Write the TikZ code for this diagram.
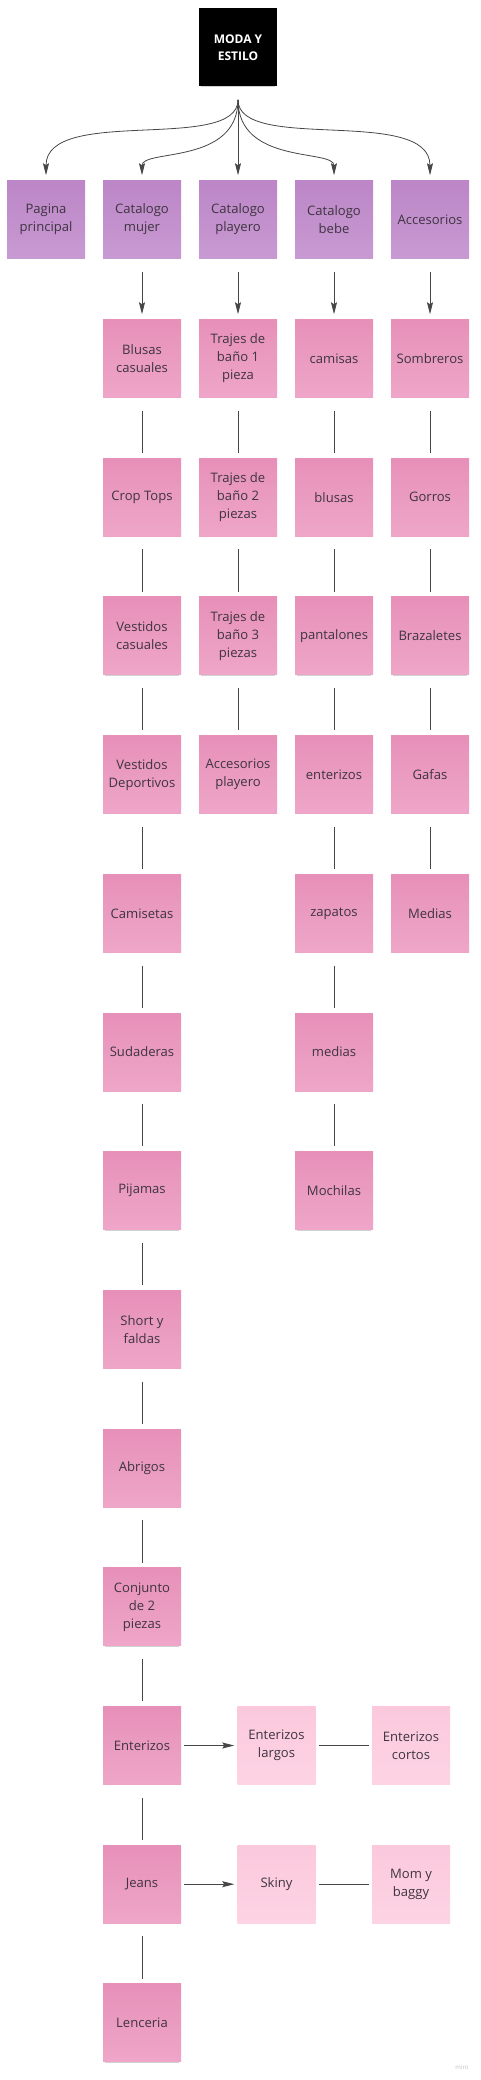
\documentclass[tikz,border=0pt]{standalone}
\usepackage{fontspec}
\setmainfont{Open Sans}
\usetikzlibrary{arrows.meta,shadows}
\definecolor{lila}{RGB}{188,134,199}
\definecolor{lilab}{RGB}{200,154,210}
\definecolor{rosa}{RGB}{231,144,185}
\definecolor{rosab}{RGB}{238,166,200}
\definecolor{rosita}{RGB}{251,200,220}
\definecolor{rositab}{RGB}{253,212,228}
\definecolor{texto}{RGB}{62,52,64}
\definecolor{linea}{RGB}{70,70,70}
\tikzstyle{nota}=[rectangle,inner sep=0pt,minimum width=58.5pt,minimum height=58.5pt,align=center,text=texto,font=\fontsize{9.8}{13.5}\selectfont,drop shadow={shadow xshift=0pt,shadow yshift=-2.5pt,shadow scale=0.94,opacity=0.3,fill=black!60}]
\tikzstyle{raiz}=[nota,fill=black,text=white,font=\fontsize{9}{12.5}\selectfont\bfseries]
\tikzstyle{cat}=[nota,top color=lila,bottom color=lilab]
\tikzstyle{item}=[nota,top color=rosa,bottom color=rosab]
\tikzstyle{sub}=[nota,top color=rosita,bottom color=rositab]
\tikzstyle{link}=[draw=linea,line width=0.6pt,shorten <=9.75pt,shorten >=3.75pt]
\tikzstyle{arr}=[link,-{Stealth[length=9pt,width=4.5pt,inset=1.5pt]}]
\tikzstyle{hlink}=[draw=linea,line width=0.6pt,shorten <=2.25pt,shorten >=2.25pt]
\tikzstyle{harr}=[hlink,-{Stealth[length=9pt,width=4.5pt,inset=1.5pt]}]
\begin{document}
\begin{tikzpicture}[x=0.75pt,y=-0.75pt]
\useasboundingbox (0,0) rectangle (480,2080);
\node (root) at (238,47.5) [raiz] {MODA Y\\ESTILO};

\node (pag) at (46,219.5) [cat] {Pagina\\principal};
\node (muj) at (142,219.5) [cat] {Catalogo\\mujer};
\node (play) at (238,219.5) [cat] {Catalogo\\playero};
\node (bebe) at (334,219.5) [cat] {Catalogo\\bebe};
\node (acc) at (430,219.5) [cat] {Accesorios};

% catalogo mujer
\node (m1) at (142,358.5) [item] {Blusas\\casuales};
\node (m2) at (142,497.2) [item] {Crop Tops};
\node (m3) at (142,635.9) [item] {Vestidos\\casuales};
\node (m4) at (142,774.6) [item] {Vestidos\\Deportivos};
\node (m5) at (142,913.3) [item] {Camisetas};
\node (m6) at (142,1052) [item] {Sudaderas};
\node (m7) at (142,1190.7) [item] {Pijamas};
\node (m8) at (142,1329.4) [item] {Short y\\faldas};
\node (m9) at (142,1468.1) [item] {Abrigos};
\node (m10) at (142,1606.8) [item] {Conjunto\\de 2\\piezas};
\node (m11) at (142,1745.5) [item] {Enterizos};
\node (m12) at (142,1884.2) [item] {Jeans};
\node (m13) at (142,2022.9) [item] {Lenceria};

\node (el) at (276.5,1745.5) [sub] {Enterizos\\largos};
\node (ec) at (411,1745.5) [sub] {Enterizos\\cortos};
\node (sk) at (276.5,1884.2) [sub] {Skiny};
\node (mb) at (411,1884.2) [sub] {Mom y\\baggy};

% catalogo playero
\node (p1) at (238,358.5) [item] {Trajes de\\baño 1\\pieza};
\node (p2) at (238,497.2) [item] {Trajes de\\baño 2\\piezas};
\node (p3) at (238,635.9) [item] {Trajes de\\baño 3\\piezas};
\node (p4) at (238,774.6) [item] {Accesorios\\playero};

% catalogo bebe
\node (b1) at (334,358.5) [item] {camisas};
\node (b2) at (334,497.2) [item] {blusas};
\node (b3) at (334,635.9) [item] {pantalones};
\node (b4) at (334,774.6) [item] {enterizos};
\node (b5) at (334,913.3) [item] {zapatos};
\node (b6) at (334,1052) [item] {medias};
\node (b7) at (334,1190.7) [item] {Mochilas};

% accesorios
\node (a1) at (430,358.5) [item] {Sombreros};
\node (a2) at (430,497.2) [item] {Gorros};
\node (a3) at (430,635.9) [item] {Brazaletes};
\node (a4) at (430,774.6) [item] {Gafas};
\node (a5) at (430,913.3) [item] {Medias};

\node (miro) at (462,2067) [font=\fontsize{4.5}{5}\selectfont,text=black!25] {miro};

\draw[arr] (root.south) to [out=-90,in=90,out looseness=0.8,in looseness=0.9] (pag.north);
\draw[arr] (root.south) to [out=-90,in=90,out looseness=1.5,in looseness=0.6] (muj.north);
\draw[arr] (root) -- (play);
\draw[arr] (root.south) to [out=-90,in=90,out looseness=1.5,in looseness=0.6] (bebe.north);
\draw[arr] (root.south) to [out=-90,in=90,out looseness=0.8,in looseness=0.9] (acc.north);

\draw[arr] (muj) -- (m1);
\draw[link] (m1) -- (m2);
\draw[link] (m2) -- (m3);
\draw[link] (m3) -- (m4);
\draw[link] (m4) -- (m5);
\draw[link] (m5) -- (m6);
\draw[link] (m6) -- (m7);
\draw[link] (m7) -- (m8);
\draw[link] (m8) -- (m9);
\draw[link] (m9) -- (m10);
\draw[link] (m10) -- (m11);
\draw[link] (m11) -- (m12);
\draw[link] (m12) -- (m13);

\draw[harr] (m11) -- (el);
\draw[hlink] (el) -- (ec);
\draw[harr] (m12) -- (sk);
\draw[hlink] (sk) -- (mb);

\draw[arr] (play) -- (p1);
\draw[link] (p1) -- (p2);
\draw[link] (p2) -- (p3);
\draw[link] (p3) -- (p4);

\draw[arr] (bebe) -- (b1);
\draw[link] (b1) -- (b2);
\draw[link] (b2) -- (b3);
\draw[link] (b3) -- (b4);
\draw[link] (b4) -- (b5);
\draw[link] (b5) -- (b6);
\draw[link] (b6) -- (b7);

\draw[arr] (acc) -- (a1);
\draw[link] (a1) -- (a2);
\draw[link] (a2) -- (a3);
\draw[link] (a3) -- (a4);
\draw[link] (a4) -- (a5);
\end{tikzpicture}
\end{document}
